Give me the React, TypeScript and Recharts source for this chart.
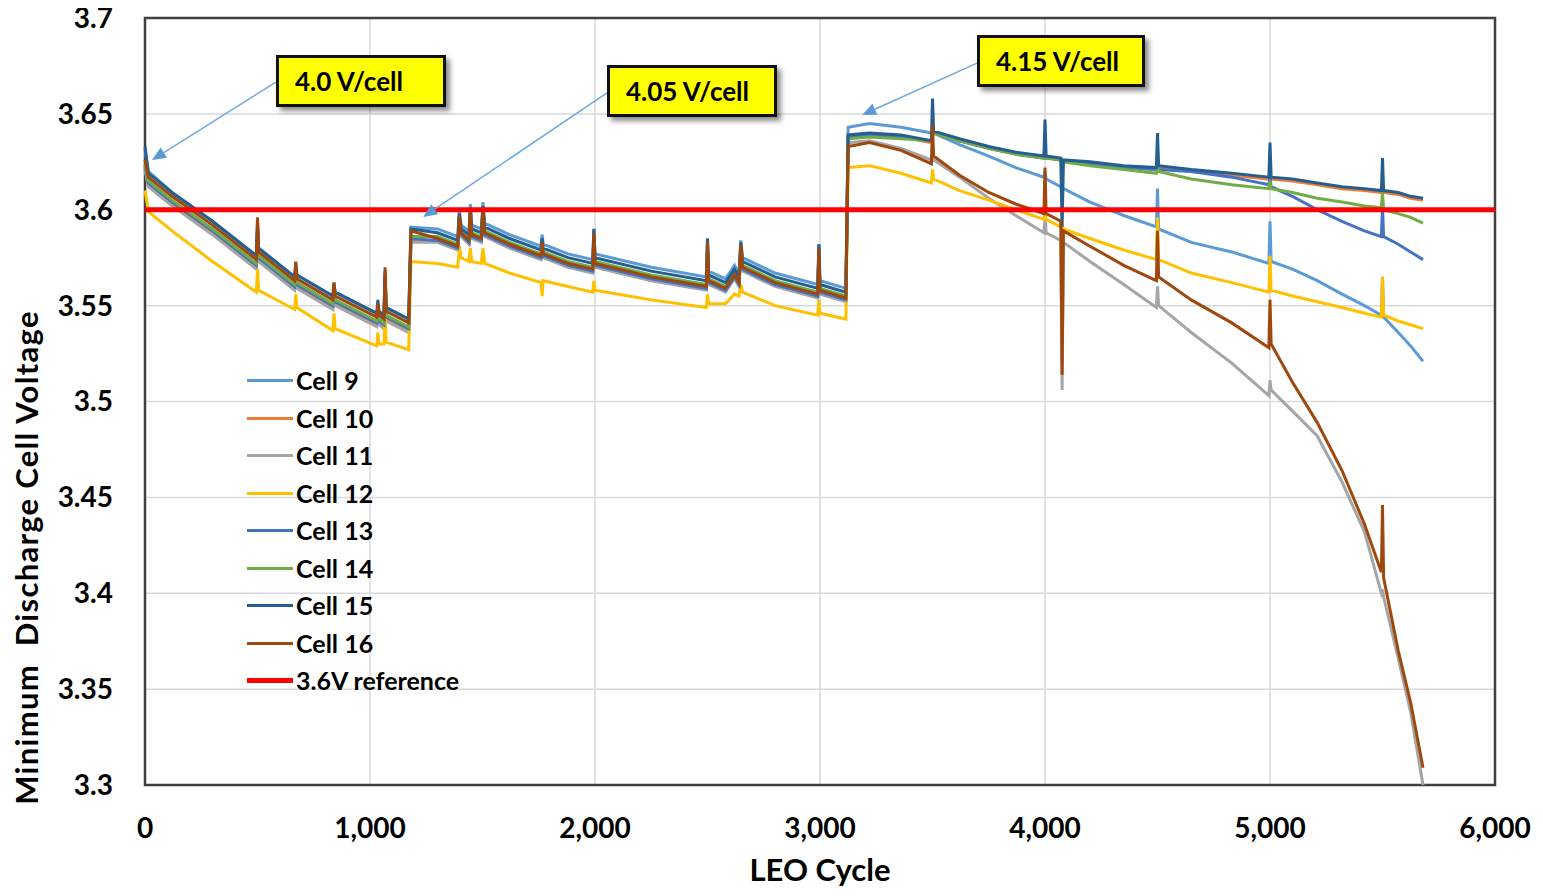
import React from 'react';
import { LineChart, Line, XAxis, YAxis, CartesianGrid, Legend, ReferenceLine, ReferenceArea } from 'recharts';

// LEO cycle positions (shared by all cell series)
const CYCLES = [
  0, 15, 120, 300, 495, 500, 505, 665, 670, 675, 835, 840, 845, 1030, 1035, 1040, 1062, 1067, 1072, 1172, 1182,
  1300, 1390, 1397, 1405, 1440, 1446, 1452, 1495, 1502, 1510, 1620, 1760, 1765, 1770, 1880, 1990, 1995, 2000, 2250,
  2495, 2500, 2505, 2580, 2620, 2640, 2648, 2656, 2800, 2990, 2995, 3000, 3115, 3125,
  3220, 3360, 3495, 3500, 3505, 3620, 3750, 3870, 3995, 4000, 4005, 4070, 4076, 4082, 4200, 4350, 4495, 4500, 4505,
  4650, 4830, 4995, 5000, 5005, 5100, 5210, 5320, 5420, 5495, 5500, 5505, 5570, 5625, 5680,
];

const CELL_9 = [
  3.631, 3.620, 3.609, 3.594, 3.576, 3.590, 3.580, 3.565, 3.570, 3.566, 3.555, 3.560, 3.557, 3.546, 3.550, 3.547, 3.545, 3.565, 3.549, 3.543, 3.591,
  3.590, 3.586, 3.600, 3.592, 3.589, 3.603, 3.592, 3.590, 3.604, 3.593, 3.587, 3.581, 3.587, 3.582, 3.577, 3.574, 3.590, 3.577, 3.570,
  3.565, 3.585, 3.568, 3.564, 3.571, 3.567, 3.584, 3.575, 3.567, 3.561, 3.582, 3.563, 3.559, 3.643,
  3.645, 3.643, 3.640, 3.642, 3.640, 3.634, 3.628, 3.622, 3.617, 3.620, 3.616, 3.612, 3.612, 3.611, 3.604, 3.597, 3.591, 3.611, 3.590,
  3.583, 3.578, 3.572, 3.594, 3.573, 3.569, 3.563, 3.556, 3.550, 3.545, 3.565, 3.544, 3.536, 3.529, 3.521,
];

const CELL_10 = [
  3.622, 3.613, 3.603, 3.588, 3.570, 3.588, 3.574, 3.559, 3.567, 3.560, 3.549, 3.557, 3.551, 3.540, 3.547, 3.541, 3.539, 3.564, 3.543, 3.537, 3.584,
  3.584, 3.580, 3.594, 3.587, 3.583, 3.597, 3.586, 3.584, 3.598, 3.587, 3.581, 3.575, 3.580, 3.576, 3.571, 3.568, 3.584, 3.571, 3.564,
  3.559, 3.578, 3.562, 3.558, 3.565, 3.561, 3.578, 3.569, 3.561, 3.555, 3.576, 3.557, 3.553, 3.638,
  3.639, 3.638, 3.635, 3.640, 3.640, 3.636, 3.632, 3.629, 3.627, 3.630, 3.627, 3.626, 3.626, 3.625, 3.624, 3.622, 3.621, 3.625, 3.622,
  3.620, 3.618, 3.616, 3.620, 3.616, 3.615, 3.613, 3.611, 3.610, 3.609, 3.613, 3.609, 3.608, 3.606, 3.605,
];

const CELL_11 = [
  3.621, 3.612, 3.602, 3.587, 3.569, 3.587, 3.573, 3.558, 3.566, 3.559, 3.548, 3.556, 3.550, 3.539, 3.546, 3.540, 3.538, 3.563, 3.542, 3.536, 3.583,
  3.583, 3.579, 3.593, 3.586, 3.582, 3.596, 3.585, 3.583, 3.597, 3.586, 3.580, 3.574, 3.579, 3.575, 3.570, 3.567, 3.583, 3.570, 3.563,
  3.558, 3.577, 3.561, 3.557, 3.564, 3.560, 3.577, 3.568, 3.560, 3.554, 3.575, 3.556, 3.552, 3.635,
  3.636, 3.632, 3.626, 3.630, 3.626, 3.617, 3.606, 3.597, 3.588, 3.596, 3.588, 3.584, 3.506, 3.583, 3.573, 3.561, 3.549, 3.560, 3.550,
  3.536, 3.520, 3.503, 3.511, 3.506, 3.495, 3.482, 3.458, 3.432, 3.400, 3.402, 3.398, 3.366, 3.338, 3.300,
];

const CELL_12 = [
  3.610, 3.599, 3.589, 3.573, 3.557, 3.569, 3.558, 3.548, 3.556, 3.549, 3.537, 3.546, 3.538, 3.529, 3.536, 3.530, 3.530, 3.545, 3.531, 3.527, 3.573,
  3.572, 3.570, 3.581, 3.575, 3.573, 3.580, 3.573, 3.572, 3.580, 3.572, 3.567, 3.562, 3.555, 3.563, 3.560, 3.557, 3.563, 3.558, 3.553,
  3.549, 3.556, 3.551, 3.551, 3.556, 3.555, 3.561, 3.557, 3.550, 3.545, 3.553, 3.546, 3.543, 3.622,
  3.623, 3.619, 3.614, 3.621, 3.616, 3.610, 3.605, 3.600, 3.595, 3.598, 3.595, 3.591, 3.591, 3.590, 3.585, 3.579, 3.574, 3.596, 3.574,
  3.567, 3.562, 3.557, 3.576, 3.558, 3.555, 3.552, 3.549, 3.546, 3.544, 3.565, 3.545, 3.542, 3.540, 3.538,
];

const CELL_13 = [
  3.623, 3.614, 3.604, 3.589, 3.571, 3.589, 3.575, 3.560, 3.568, 3.561, 3.550, 3.558, 3.552, 3.541, 3.548, 3.542, 3.540, 3.565, 3.544, 3.538, 3.585,
  3.584, 3.580, 3.595, 3.587, 3.583, 3.598, 3.586, 3.584, 3.599, 3.587, 3.581, 3.575, 3.581, 3.576, 3.571, 3.568, 3.585, 3.571, 3.564,
  3.559, 3.579, 3.562, 3.558, 3.565, 3.561, 3.579, 3.569, 3.561, 3.555, 3.577, 3.557, 3.553, 3.638,
  3.639, 3.638, 3.636, 3.641, 3.640, 3.636, 3.632, 3.629, 3.627, 3.631, 3.627, 3.626, 3.626, 3.625, 3.624, 3.622, 3.621, 3.624, 3.621,
  3.620, 3.617, 3.613, 3.617, 3.612, 3.607, 3.600, 3.594, 3.589, 3.586, 3.601, 3.586, 3.582, 3.578, 3.574,
];

const CELL_14 = [
  3.624, 3.615, 3.605, 3.590, 3.572, 3.590, 3.576, 3.561, 3.569, 3.562, 3.551, 3.559, 3.553, 3.542, 3.549, 3.543, 3.541, 3.566, 3.545, 3.539, 3.586,
  3.586, 3.582, 3.596, 3.589, 3.585, 3.599, 3.588, 3.586, 3.600, 3.589, 3.583, 3.577, 3.582, 3.578, 3.573, 3.570, 3.586, 3.573, 3.566,
  3.561, 3.580, 3.564, 3.560, 3.567, 3.563, 3.580, 3.571, 3.563, 3.557, 3.578, 3.559, 3.555, 3.637,
  3.638, 3.637, 3.636, 3.640, 3.640, 3.636, 3.632, 3.629, 3.627, 3.630, 3.627, 3.626, 3.626, 3.625, 3.623, 3.621, 3.619, 3.623, 3.620,
  3.616, 3.613, 3.611, 3.615, 3.611, 3.609, 3.606, 3.604, 3.602, 3.601, 3.609, 3.600, 3.598, 3.596, 3.593,
];

const CELL_15 = [
  3.633, 3.619, 3.609, 3.594, 3.576, 3.594, 3.580, 3.565, 3.572, 3.566, 3.555, 3.562, 3.557, 3.546, 3.553, 3.547, 3.545, 3.568, 3.549, 3.543, 3.590,
  3.588, 3.584, 3.598, 3.590, 3.587, 3.601, 3.590, 3.588, 3.602, 3.591, 3.585, 3.579, 3.585, 3.580, 3.575, 3.572, 3.590, 3.575, 3.568,
  3.563, 3.585, 3.566, 3.562, 3.569, 3.565, 3.583, 3.573, 3.565, 3.559, 3.582, 3.561, 3.557, 3.639,
  3.640, 3.639, 3.636, 3.658, 3.641, 3.637, 3.633, 3.630, 3.628, 3.647, 3.628, 3.627, 3.591, 3.626, 3.625, 3.623, 3.622, 3.640, 3.623,
  3.621, 3.619, 3.617, 3.635, 3.617, 3.616, 3.614, 3.612, 3.611, 3.610, 3.627, 3.610, 3.609, 3.607, 3.606,
];

const CELL_16 = [
  3.626, 3.617, 3.607, 3.592, 3.574, 3.596, 3.578, 3.563, 3.573, 3.564, 3.553, 3.562, 3.555, 3.544, 3.551, 3.545, 3.543, 3.570, 3.547, 3.541, 3.589,
  3.585, 3.581, 3.597, 3.588, 3.584, 3.600, 3.587, 3.585, 3.601, 3.588, 3.582, 3.576, 3.583, 3.577, 3.572, 3.569, 3.588, 3.572, 3.565,
  3.560, 3.583, 3.563, 3.559, 3.566, 3.562, 3.582, 3.570, 3.562, 3.556, 3.580, 3.558, 3.554, 3.633,
  3.635, 3.631, 3.624, 3.644, 3.628, 3.618, 3.609, 3.603, 3.598, 3.622, 3.598, 3.594, 3.514, 3.589, 3.581, 3.571, 3.563, 3.589, 3.565,
  3.553, 3.541, 3.528, 3.553, 3.530, 3.510, 3.489, 3.464, 3.436, 3.411, 3.446, 3.408, 3.370, 3.343, 3.309,
];

const REF_CYCLES = [0, 6000];
const REF_VALUES = [3.6, 3.6];

const X_TICKS = [0, 1000, 2000, 3000, 4000, 5000, 6000];
const Y_TICKS = [3.3, 3.35, 3.4, 3.45, 3.5, 3.55, 3.6, 3.65, 3.7];

const SERIES = [
  { key: 'c9', name: 'Cell 9', color: '#5B9BD5', values: CELL_9 },
  { key: 'c10', name: 'Cell 10', color: '#ED7D31', values: CELL_10 },
  { key: 'c11', name: 'Cell 11', color: '#A5A5A5', values: CELL_11 },
  { key: 'c12', name: 'Cell 12', color: '#FFC000', values: CELL_12 },
  { key: 'c13', name: 'Cell 13', color: '#4472C4', values: CELL_13 },
  { key: 'c14', name: 'Cell 14', color: '#70AD47', values: CELL_14 },
  { key: 'c15', name: 'Cell 15', color: '#255E91', values: CELL_15 },
  { key: 'c16', name: 'Cell 16', color: '#9E480E', values: CELL_16 },
];
const REF_NAME = '3.6V reference';
const REF_COLOR = '#FF0000';

// charge voltage callouts: label, arrow tail (cycle, V), arrow head (cycle, V)
const CALLOUTS = [
  { text: '4.0 V/cell', tail: [582, 3.6666], head: [31, 3.6259], box: { left: 276, top: 55, width: 170 } },
  { text: '4.05 V/cell', tail: [2053, 3.6609], head: [1236, 3.5962], box: { left: 607, top: 65, width: 170 } },
  { text: '4.15 V/cell', tail: [3698, 3.6765], head: [3187, 3.6494], box: { left: 977, top: 35, width: 168 } },
];

const rows = CYCLES.map((cycle, i) => {
  const r: Record<string, number> = { cycle };
  SERIES.forEach((s) => { r[s.key] = s.values[i]; });
  return r;
});
const refRows = REF_CYCLES.map((cycle, i) => ({ cycle, v: REF_VALUES[i] }));

const FONT = 'Lato, "Open Sans", sans-serif';
const tickStyle = { fill: '#000', fontSize: 28, fontWeight: 700, fontFamily: FONT };

const Arrow = (props: any) => {
  const { x1, y1, x2, y2 } = props;
  const ang = Math.atan2(y2 - y1, x2 - x1);
  const len = 14;
  const half = 6;
  const bx = x2 - len * Math.cos(ang);
  const by = y2 - len * Math.sin(ang);
  const px = -Math.sin(ang) * half;
  const py = Math.cos(ang) * half;
  return (
    <g>
      <line x1={x1} y1={y1} x2={bx} y2={by} stroke="#6FA8DC" strokeWidth={1.5} />
      <polygon points={`${x2},${y2} ${bx + px},${by + py} ${bx - px},${by - py}`} fill="#5B9BD5" />
    </g>
  );
};

const renderLegend = () => (
  <div style={{ display: 'flex', flexDirection: 'column', fontFamily: FONT }}>
    {[...SERIES.map((s) => ({ name: s.name, color: s.color, w: 3 })), { name: REF_NAME, color: REF_COLOR, w: 5 }].map((it) => (
      <div key={it.name} style={{ display: 'flex', alignItems: 'center', height: 37.5 }}>
        <span style={{ display: 'inline-block', width: 46, height: it.w, background: it.color, marginRight: 3 }} />
        <span style={{ fontSize: 25, fontWeight: 700, color: '#000', lineHeight: 1 }}>{it.name}</span>
      </div>
    ))}
  </div>
);

const YTitle = (props: any) => {
  const { viewBox } = props;
  const cx = viewBox.x - 18;
  const cy = viewBox.y + viewBox.height / 2 + 156;
  return (
    <text
      x={cx}
      y={cy}
      transform={`rotate(-90, ${cx}, ${cy})`}
      textAnchor="middle"
      dy="0.36em"
      style={{ whiteSpace: 'pre', fontFamily: FONT, fontSize: 31, fontWeight: 700, fill: '#000', letterSpacing: 1.3 }}
    >
      {'Minimum  Discharge Cell Voltage'}
    </text>
  );
};

const XTitle = (props: any) => {
  const { viewBox } = props;
  return (
    <text
      x={viewBox.x + viewBox.width / 2}
      y={viewBox.y + 96}
      textAnchor="middle"
      style={{ fontFamily: FONT, fontSize: 31, fontWeight: 700, fill: '#000' }}
    >
      LEO Cycle
    </text>
  );
};

export default function App() {
  return (
    <div style={{ margin: -8, width: 1543, height: 896, position: 'relative', background: '#fff', fontFamily: FONT }}>
      <LineChart width={1543} height={896} data={rows} margin={{ top: 18, right: 48, left: 45, bottom: 51 }}>
        <CartesianGrid stroke="#d9d9d9" strokeWidth={1.5} />
        <XAxis
          dataKey="cycle"
          type="number"
          domain={[0, 6000]}
          ticks={X_TICKS}
          tickFormatter={(v: number) => v.toLocaleString('en-US')}
          tick={tickStyle}
          tickSize={0}
          tickMargin={33}
          axisLine={false}
          height={60}
          label={<XTitle />}
        />
        <YAxis
          type="number"
          domain={[3.3, 3.7]}
          ticks={Y_TICKS}
          tick={tickStyle}
          tickSize={0}
          tickMargin={32}
          axisLine={false}
          width={100}
          allowDataOverflow
          label={<YTitle />}
        />
        <ReferenceArea x1={0} x2={6000} y1={3.3} y2={3.7} fill="none" fillOpacity={0} stroke="#404040" strokeWidth={2.5} ifOverflow="visible" />
        {SERIES.map((s) => (
          <Line
            key={s.key}
            dataKey={s.key}
            name={s.name}
            stroke={s.color}
            strokeWidth={3}
            dot={false}
            type="linear"
            isAnimationActive={false}
          />
        ))}
        <Line data={refRows} dataKey="v" name={REF_NAME} stroke={REF_COLOR} strokeWidth={5} dot={false} type="linear" isAnimationActive={false} />
        {CALLOUTS.map((c) => (
          <ReferenceLine
            key={c.text}
            segment={[{ x: c.tail[0], y: c.tail[1] }, { x: c.head[0], y: c.head[1] }]}
            shape={<Arrow />}
            ifOverflow="visible"
          />
        ))}
        <Legend
          layout="vertical"
          align="center"
          verticalAlign="middle"
          content={renderLegend}
          wrapperStyle={{ left: 247, top: 362, width: 240, height: 340 }}
        />
      </LineChart>
      {CALLOUTS.map((c) => (
        <div
          key={c.text}
          style={{
            position: 'absolute',
            left: c.box.left,
            top: c.box.top,
            width: c.box.width,
            height: 52,
            boxSizing: 'border-box',
            background: '#FFFF00',
            border: '3px solid #111',
            boxShadow: '4px 4px 5px rgba(0,0,0,0.45)',
            display: 'flex',
            alignItems: 'center',
            paddingLeft: 16,
            fontFamily: FONT,
            fontSize: 26,
            fontWeight: 700,
            color: '#000',
          }}
        >
          {c.text}
        </div>
      ))}
    </div>
  );
}
